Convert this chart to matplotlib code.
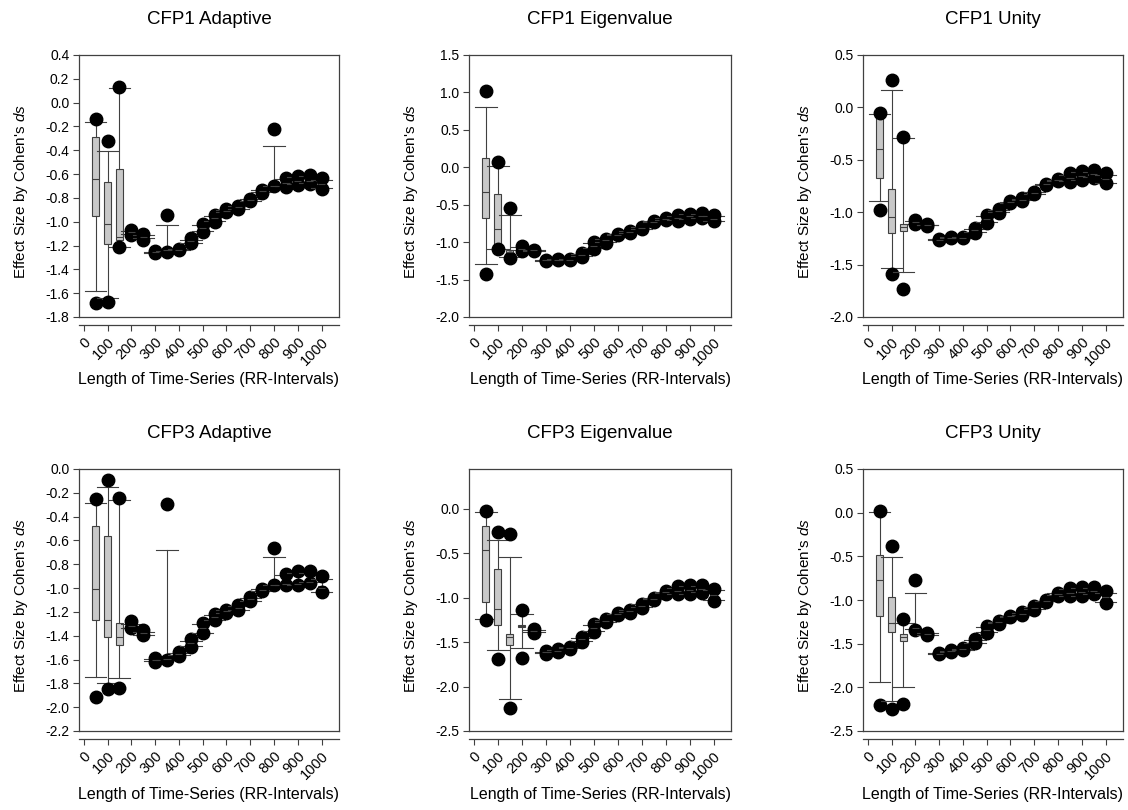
import matplotlib
matplotlib.use('Agg')
import matplotlib.pyplot as plt

plt.rcParams['font.family'] = ['Liberation Sans', 'DejaVu Sans']
plt.rcParams['axes.unicode_minus'] = False
plt.rcParams['mathtext.fontset'] = 'custom'
plt.rcParams['mathtext.rm'] = 'Liberation Sans'
plt.rcParams['mathtext.it'] = 'Liberation Sans:italic'

x_len = [50, 100, 150, 200, 250, 300, 350, 400, 450, 500,
         550, 600, 650, 700, 750, 800, 850, 900, 950, 1000]
x_ticks = [0, 100, 200, 300, 400, 500, 600, 700, 800, 900, 1000]

# --- CFP1 Adaptive
a1_fhi = [-0.14, -0.32, 0.13, -1.066, -1.105, -1.25, -0.94, -1.225, -1.14, -1.02, -0.945, -0.895, -0.865, -0.805, -0.73, -0.22, -0.63, -0.615, -0.61, -0.637]
a1_whi = [-0.16, -0.41, 0.125, -1.08, -1.114, -1.252, -1.03, -1.23, -1.15, -1.03, -0.955, -0.90, -0.87, -0.81, -0.735, -0.36, -0.645, -0.625, -0.62, -0.65]
a1_q3 = [-0.29, -0.665, -0.56, -1.085, -1.12, -1.255, -1.235, -1.232, -1.155, -1.045, -0.965, -0.905, -0.875, -0.815, -0.74, -0.695, -0.66, -0.645, -0.645, -0.665]
a1_med = [-0.645, -1.02, -1.13, -1.09, -1.128, -1.258, -1.24, -1.235, -1.162, -1.052, -0.972, -0.91, -0.88, -0.82, -0.742, -0.70, -0.675, -0.655, -0.655, -0.685]
a1_q1 = [-0.955, -1.19, -1.155, -1.095, -1.135, -1.26, -1.245, -1.238, -1.17, -1.06, -0.98, -0.915, -0.885, -0.822, -0.745, -0.705, -0.69, -0.67, -0.67, -0.70]
a1_wlo = [-1.585, -1.64, -1.21, -1.107, -1.14, -1.262, -1.25, -1.24, -1.175, -1.08, -0.99, -0.918, -0.89, -0.828, -0.75, -0.70, -0.70, -0.685, -0.675, -0.72]
a1_flo = [-1.68, -1.675, -1.215, -1.114, -1.156, -1.265, -1.255, -1.24, -1.18, -1.085, -1.0, -0.92, -0.895, -0.83, -0.755, -0.70, -0.705, -0.69, -0.68, -0.727]

# --- CFP1 Eigenvalue
e1_fhi = [1.02, 0.07, -0.54, -1.055, -1.10, -1.235, -1.225, -1.22, -1.144, -0.997, -0.952, -0.89, -0.85, -0.796, -0.718, -0.671, -0.64, -0.618, -0.609, -0.64]
e1_whi = [0.81, 0.02, -0.64, -1.07, -1.105, -1.238, -1.228, -1.225, -1.155, -1.01, -0.96, -0.895, -0.855, -0.80, -0.72, -0.68, -0.655, -0.63, -0.62, -0.65]
e1_q3 = [0.12, -0.36, -1.11, -1.08, -1.108, -1.24, -1.23, -1.228, -1.165, -1.03, -0.97, -0.898, -0.86, -0.805, -0.722, -0.685, -0.665, -0.645, -0.635, -0.67]
e1_med = [-0.33, -0.83, -1.13, -1.09, -1.11, -1.242, -1.233, -1.232, -1.17, -1.045, -0.978, -0.90, -0.865, -0.81, -0.725, -0.69, -0.68, -0.655, -0.645, -0.685]
e1_q1 = [-0.675, -1.06, -1.15, -1.10, -1.113, -1.245, -1.236, -1.236, -1.178, -1.06, -0.985, -0.903, -0.87, -0.815, -0.728, -0.695, -0.695, -0.67, -0.66, -0.70]
e1_wlo = [-1.295, -1.085, -1.20, -1.11, -1.118, -1.248, -1.24, -1.24, -1.19, -1.08, -0.998, -0.905, -0.875, -0.822, -0.73, -0.70, -0.71, -0.688, -0.672, -0.715]
e1_flo = [-1.43, -1.095, -1.21, -1.117, -1.12, -1.25, -1.242, -1.245, -1.197, -1.086, -1.005, -0.908, -0.878, -0.827, -0.732, -0.706, -0.72, -0.694, -0.676, -0.72]

# --- CFP1 Unity
u1_fhi = [-0.05, 0.26, -0.28, -1.07, -1.115, -1.255, -1.235, -1.235, -1.15, -1.022, -0.971, -0.895, -0.865, -0.806, -0.728, -0.685, -0.63, -0.608, -0.599, -0.63]
u1_whi = [-0.06, 0.165, -0.296, -1.08, -1.118, -1.258, -1.238, -1.238, -1.158, -1.035, -0.978, -0.898, -0.87, -0.81, -0.73, -0.69, -0.645, -0.62, -0.612, -0.645]
u1_q3 = [-0.09, -0.78, -1.108, -1.085, -1.12, -1.26, -1.24, -1.24, -1.165, -1.05, -0.985, -0.90, -0.875, -0.815, -0.732, -0.692, -0.66, -0.64, -0.63, -0.665]
u1_med = [-0.40, -1.045, -1.14, -1.09, -1.122, -1.262, -1.242, -1.242, -1.172, -1.062, -0.99, -0.903, -0.88, -0.82, -0.735, -0.695, -0.675, -0.655, -0.64, -0.68]
u1_q1 = [-0.672, -1.197, -1.175, -1.095, -1.124, -1.265, -1.245, -1.245, -1.18, -1.075, -0.995, -0.906, -0.885, -0.824, -0.738, -0.698, -0.69, -0.67, -0.655, -0.695]
u1_wlo = [-0.895, -1.53, -1.57, -1.108, -1.126, -1.268, -1.248, -1.248, -1.188, -1.09, -1.0, -0.908, -0.888, -0.828, -0.74, -0.70, -0.705, -0.688, -0.665, -0.72]
u1_flo = [-0.975, -1.586, -1.73, -1.115, -1.128, -1.27, -1.25, -1.25, -1.194, -1.102, -1.003, -0.91, -0.89, -0.83, -0.742, -0.70, -0.71, -0.694, -0.672, -0.726]

# --- CFP3 Adaptive
a3_fhi = [-0.252, -0.095, -0.243, -1.278, -1.356, -1.585, -0.294, -1.535, -1.431, -1.292, -1.216, -1.18, -1.143, -1.076, -1.006, -0.663, -0.878, -0.858, -0.858, -0.90]
a3_whi = [-0.285, -0.154, -0.26, -1.30, -1.365, -1.595, -0.677, -1.545, -1.445, -1.30, -1.225, -1.185, -1.15, -1.08, -1.01, -0.738, -0.89, -0.87, -0.87, -0.92]
a3_q3 = [-0.481, -0.559, -1.29, -1.315, -1.375, -1.60, -1.59, -1.55, -1.455, -1.325, -1.24, -1.19, -1.16, -1.09, -1.013, -0.96, -0.955, -0.955, -0.93, -0.985]
a3_med = [-1.004, -1.272, -1.41, -1.32, -1.38, -1.605, -1.595, -1.555, -1.465, -1.335, -1.245, -1.195, -1.165, -1.095, -1.016, -0.97, -0.965, -0.965, -0.945, -1.0]
a3_q1 = [-1.264, -1.412, -1.479, -1.325, -1.385, -1.61, -1.598, -1.56, -1.475, -1.345, -1.255, -1.20, -1.17, -1.10, -1.02, -0.975, -0.97, -0.97, -0.955, -1.015]
a3_wlo = [-1.747, -1.798, -1.753, -1.335, -1.39, -1.615, -1.60, -1.565, -1.49, -1.375, -1.265, -1.205, -1.18, -1.105, -1.023, -0.976, -0.975, -0.975, -0.952, -1.03]
a3_flo = [-1.912, -1.845, -1.837, -1.339, -1.398, -1.618, -1.60, -1.571, -1.496, -1.381, -1.272, -1.208, -1.188, -1.11, -1.026, -0.976, -0.976, -0.976, -0.956, -1.034]

# --- CFP3 Eigenvalue
e3_fhi = [-0.019, -0.262, -0.277, -1.143, -1.357, -1.60, -1.58, -1.555, -1.439, -1.30, -1.244, -1.175, -1.132, -1.068, -1.005, -0.926, -0.87, -0.851, -0.851, -0.896]
e3_whi = [-0.037, -0.345, -0.536, -1.188, -1.365, -1.605, -1.585, -1.558, -1.45, -1.31, -1.25, -1.178, -1.14, -1.075, -1.008, -0.93, -0.885, -0.865, -0.865, -0.91]
e3_q3 = [-0.187, -0.671, -1.413, -1.31, -1.372, -1.61, -1.59, -1.56, -1.46, -1.33, -1.255, -1.18, -1.145, -1.085, -1.01, -0.935, -0.905, -0.895, -0.89, -0.95]
e3_med = [-0.461, -1.121, -1.443, -1.319, -1.376, -1.612, -1.595, -1.563, -1.468, -1.342, -1.258, -1.182, -1.15, -1.09, -1.012, -0.94, -0.92, -0.91, -0.905, -0.97]
e3_q1 = [-1.046, -1.308, -1.537, -1.328, -1.38, -1.615, -1.60, -1.566, -1.475, -1.355, -1.262, -1.185, -1.155, -1.095, -1.015, -0.945, -0.935, -0.93, -0.92, -0.99]
e3_wlo = [-1.244, -1.593, -2.144, -1.57, -1.39, -1.625, -1.605, -1.57, -1.49, -1.375, -1.268, -1.188, -1.165, -1.105, -1.018, -0.95, -0.955, -0.955, -0.94, -1.02]
e3_flo = [-1.25, -1.687, -2.238, -1.675, -1.394, -1.63, -1.61, -1.572, -1.495, -1.383, -1.27, -1.19, -1.169, -1.113, -1.02, -0.952, -0.963, -0.963, -0.945, -1.031]

# --- CFP3 Unity
u3_fhi = [0.016, -0.377, -1.223, -0.773, -1.376, -1.604, -1.578, -1.555, -1.452, -1.30, -1.242, -1.18, -1.139, -1.071, -1.003, -0.918, -0.861, -0.85, -0.85, -0.899]
u3_whi = [0.004, -0.506, -1.261, -0.918, -1.38, -1.61, -1.582, -1.558, -1.46, -1.31, -1.248, -1.183, -1.145, -1.078, -1.006, -0.922, -0.875, -0.865, -0.862, -0.915]
u3_q3 = [-0.48, -0.968, -1.395, -1.315, -1.385, -1.612, -1.585, -1.56, -1.47, -1.33, -1.252, -1.185, -1.15, -1.085, -1.008, -0.928, -0.90, -0.895, -0.885, -0.95]
u3_med = [-0.766, -1.261, -1.425, -1.32, -1.39, -1.615, -1.588, -1.562, -1.475, -1.342, -1.256, -1.187, -1.155, -1.09, -1.01, -0.933, -0.915, -0.91, -0.898, -0.97]
u3_q1 = [-1.185, -1.364, -1.471, -1.325, -1.395, -1.618, -1.59, -1.565, -1.482, -1.355, -1.26, -1.19, -1.16, -1.095, -1.012, -0.938, -0.93, -0.93, -0.915, -0.99]
u3_wlo = [-1.94, -2.157, -1.997, -1.337, -1.40, -1.62, -1.592, -1.568, -1.49, -1.37, -1.265, -1.192, -1.168, -1.10, -1.015, -0.945, -0.95, -0.95, -0.93, -1.02]
u3_flo = [-2.203, -2.253, -2.188, -1.34, -1.406, -1.624, -1.595, -1.57, -1.498, -1.376, -1.27, -1.195, -1.174, -1.109, -1.018, -0.949, -0.956, -0.956, -0.937, -1.033]

titles = ['CFP1 Adaptive', 'CFP1 Eigenvalue', 'CFP1 Unity',
          'CFP3 Adaptive', 'CFP3 Eigenvalue', 'CFP3 Unity']
y_ticks = [[-1.8, -1.6, -1.4, -1.2, -1.0, -0.8, -0.6, -0.4, -0.2, 0.0, 0.2, 0.4],
           [-2.0, -1.5, -1.0, -0.5, 0.0, 0.5, 1.0, 1.5],
           [-2.0, -1.5, -1.0, -0.5, 0.0, 0.5],
           [-2.2, -2.0, -1.8, -1.6, -1.4, -1.2, -1.0, -0.8, -0.6, -0.4, -0.2, 0.0],
           [-2.5, -2.0, -1.5, -1.0, -0.5, 0.0],
           [-2.5, -2.0, -1.5, -1.0, -0.5, 0.0, 0.5]]
y_lims = [(-1.8, 0.4), (-2.0, 1.5), (-2.0, 0.5), (-2.2, 0.0), (-2.5, 0.45), (-2.5, 0.5)]

panel_data = [
    (a1_fhi, a1_whi, a1_q3, a1_med, a1_q1, a1_wlo, a1_flo),
    (e1_fhi, e1_whi, e1_q3, e1_med, e1_q1, e1_wlo, e1_flo),
    (u1_fhi, u1_whi, u1_q3, u1_med, u1_q1, u1_wlo, u1_flo),
    (a3_fhi, a3_whi, a3_q3, a3_med, a3_q1, a3_wlo, a3_flo),
    (e3_fhi, e3_whi, e3_q3, e3_med, e3_q1, e3_wlo, e3_flo),
    (u3_fhi, u3_whi, u3_q3, u3_med, u3_q1, u3_wlo, u3_flo),
]

W, H = 1128, 810
# frame boxes in pixels: left, top, width, height
frames = [(79, 55, 260, 262), (469, 55, 262, 262), (863, 55, 260, 262),
          (79, 469, 260, 262), (469, 469, 262, 262), (863, 469, 260, 262)]

dark = '#404040'
fig = plt.figure(figsize=(W / 100, H / 100), dpi=100)

for k in range(6):
    l, t, w, h = frames[k]
    ax = fig.add_axes([l / W, 1 - (t + h) / H, w / W, h / H])
    # spine position first: moving it resets the tick objects
    for s in ax.spines.values():
        s.set_color(dark)
        s.set_linewidth(0.9)
    ax.spines['bottom'].set_position(('outward', 6))
    ax.plot([0, 1], [0, 0], transform=ax.transAxes, color=dark, lw=0.9, clip_on=False)

    fhi, whi, q3, med, q1, wlo, flo = panel_data[k]
    stats = []
    for i in range(len(x_len)):
        stats.append(dict(med=med[i], q1=q1[i], q3=q3[i], whislo=wlo[i], whishi=whi[i],
                          fliers=[flo[i], fhi[i]]))
    ax.bxp(stats, positions=x_len, widths=30, capwidths=90, patch_artist=True,
           manage_ticks=False,
           boxprops=dict(facecolor='#c8c8c8', edgecolor=dark, linewidth=0.8),
           medianprops=dict(color=dark, linewidth=0.8),
           whiskerprops=dict(color=dark, linewidth=0.8),
           capprops=dict(color=dark, linewidth=0.8),
           flierprops=dict(marker='o', markerfacecolor='black', markeredgecolor='black',
                           markersize=9, linestyle='none'))
    ax.set_xlim(-20, 1073)
    ax.set_ylim(*y_lims[k])
    ax.set_xticks(x_ticks)
    ax.set_xticklabels([str(v) for v in x_ticks], rotation=45, ha='right',
                       rotation_mode='anchor', fontsize=10.5)
    ax.set_yticks(y_ticks[k])
    ax.set_yticklabels(['%.1f' % v for v in y_ticks[k]], fontsize=10)
    ax.tick_params(direction='out', length=4, width=0.8, color=dark, pad=3)
    ax.tick_params(axis='x', pad=3)

    ax.text(0.5, 1 + 35 / h, titles[k], transform=ax.transAxes, ha='center', va='center',
            fontsize=13.5)
    ax.text(-58 / w, 0.48, "Effect Size by Cohen's $\\mathit{ds}$", transform=ax.transAxes,
            rotation=90, ha='center', va='center', fontsize=11)
    ax.text(0.5, -63 / h, 'Length of Time-Series (RR-Intervals)', transform=ax.transAxes,
            ha='center', va='center', fontsize=11.5)

fig.savefig('out.png', dpi=100)
